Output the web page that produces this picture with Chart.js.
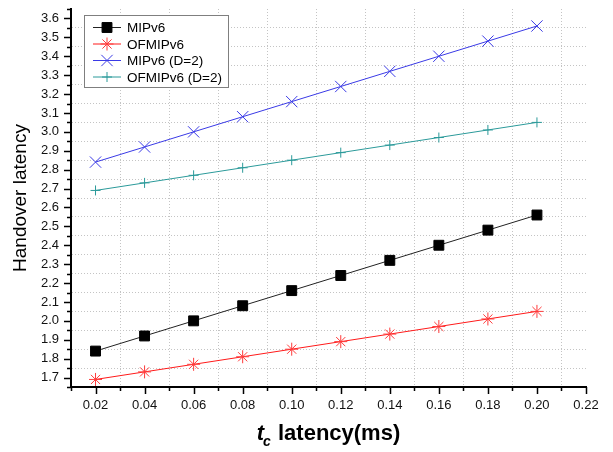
<!DOCTYPE html>
<html>
<head>
<meta charset="utf-8">
<script src="https://cdn.jsdelivr.net/npm/chart.js@4/dist/chart.umd.min.js"></script>
<style>
  html, body { margin:0; padding:0; background:#fff; }
  #c { display:block; }
</style>
</head>
<body>
<canvas id="c" width="613" height="452"></canvas>
<script>
// values
const tcValues = [0.02, 0.04, 0.06, 0.08, 0.10, 0.12, 0.14, 0.16, 0.18, 0.20];
const mipv6 = [1.84, 1.92, 2.00, 2.08, 2.16, 2.24, 2.32, 2.40, 2.48, 2.56];
const ofmipv6 = [1.69, 1.73, 1.77, 1.81, 1.85, 1.89, 1.93, 1.97, 2.01, 2.05];
const mipv6D2 = [2.84, 2.92, 3.00, 3.08, 3.16, 3.24, 3.32, 3.40, 3.48, 3.56];
const ofmipv6D2 = [2.69, 2.73, 2.77, 2.81, 2.85, 2.89, 2.93, 2.97, 3.01, 3.05];
const seriesNames = ['MIPv6', 'OFMIPv6', 'MIPv6 (D=2)', 'OFMIPv6 (D=2)'];

// tick positions: every 0.01 on x, every 0.05 on y (labels on every other)
const xTicks = Array.from({length:22}, (_, i) => (i+1)/100);   // 0.01 .. 0.22
const yTicks = Array.from({length:41}, (_, i) => (i+33)/20);   // 1.65 .. 3.65

const FONT = "'Liberation Sans', Arial, sans-serif";

function pts(ys){ return ys.map((y,i)=>({x:tcValues[i], y})); }

const isMajorX = v => Math.round(v*100) % 2 === 0;
const isMajorY = v => Math.round(v*20) % 2 === 0;

// minor/major ticks on the axes, drawn by hand so they can differ in length
const axisTicks = {
  id:'axisTicks',
  afterDraw(chart){
    const {ctx, chartArea:a, scales:{x, y}} = chart;
    ctx.save();
    ctx.strokeStyle = '#000';
    ctx.lineWidth = 1.5;
    ctx.beginPath();
    x.ticks.forEach(t=>{
      const px = Math.round(x.getPixelForValue(t.value)) + 0.5;
      const len = isMajorX(t.value) ? 7 : 4;
      ctx.moveTo(px, a.bottom); ctx.lineTo(px, a.bottom + len);
    });
    y.ticks.forEach(t=>{
      const py = Math.round(y.getPixelForValue(t.value)) + 0.5;
      const len = isMajorY(t.value) ? 7 : 4;
      ctx.moveTo(a.left, py); ctx.lineTo(a.left - len, py);
    });
    ctx.stroke();
    ctx.restore();
  }
};

// x title with italic t and subscript c
const xTitle = {
  id:'xTitle',
  afterDraw(chart){
    const {ctx, chartArea:a} = chart;
    ctx.save();
    ctx.fillStyle = '#000';
    ctx.textBaseline = 'alphabetic';
    const f1 = "italic bold 22px " + FONT, f2 = "italic bold 14px " + FONT, f3 = "bold 22px " + FONT;
    ctx.font = f1; const w1 = ctx.measureText('t').width;
    ctx.font = f2; const w2 = ctx.measureText('c').width;
    ctx.font = f3; const w3 = ctx.measureText(' latency(ms)').width;
    let x0 = (a.left + a.right)/2 - (w1 + w2 + w3)/2;
    const base = 440;
    ctx.font = f1; ctx.fillText('t', x0, base); x0 += w1;
    ctx.font = f2; ctx.fillText('c', x0 - 1, base + 6); x0 += w2;
    ctx.font = f3; ctx.fillText(' latency(ms)', x0, base);
    ctx.restore();
  }
};

// boxed legend inside the plot, top left
const boxLegend = {
  id:'boxLegend',
  afterDraw(chart){
    const {ctx} = chart;
    const bx = 84, by = 15, bw = 144, bh = 72, row = 16.5;
    ctx.save();
    ctx.fillStyle = '#fff';
    ctx.fillRect(bx, by, bw, bh);
    ctx.strokeStyle = '#7f7f7f';
    ctx.lineWidth = 1;
    ctx.strokeRect(bx + 0.5, by + 0.5, bw, bh);
    ctx.font = "13.5px " + FONT;
    ctx.textBaseline = 'middle';
    chart.data.datasets.forEach((ds, i)=>{
      const yy = by + 12.5 + i*row;
      ctx.strokeStyle = ds.borderColor;
      ctx.lineWidth = 1;
      ctx.beginPath(); ctx.moveTo(93, yy); ctx.lineTo(121, yy); ctx.stroke();
      ctx.fillStyle = ds.pointBackgroundColor;
      ctx.strokeStyle = ds.pointBorderColor;
      Chart.helpers.drawPoint(ctx, {pointStyle: ds.pointStyle, rotation:0, radius: ds.pointRadius, borderWidth: 1}, 107, yy);
      ctx.fillStyle = '#000';
      ctx.fillText(ds.label, 127, yy + 1);
    });
    ctx.restore();
  }
};

new Chart(document.getElementById('c'), {
  type:'line',
  data:{
    datasets:[
      { label:seriesNames[0], data:pts(mipv6), borderColor:'#222', borderWidth:1,
        pointStyle:'rect', pointRadius:7, pointBackgroundColor:'#000', pointBorderColor:'#000', pointBorderWidth:1 },
      { label:seriesNames[1], data:pts(ofmipv6), borderColor:'#ff1a1a', borderWidth:1,
        pointStyle:'star', pointRadius:6.5, pointBackgroundColor:'#ff3b3b', pointBorderColor:'#ff3b3b', pointBorderWidth:1 },
      { label:seriesNames[2], data:pts(mipv6D2), borderColor:'#3a3ae6', borderWidth:1,
        pointStyle:'crossRot', pointRadius:8, pointBackgroundColor:'#3a3ae6', pointBorderColor:'#3a3ae6', pointBorderWidth:1 },
      { label:seriesNames[3], data:pts(ofmipv6D2), borderColor:'#2b9a9a', borderWidth:1,
        pointStyle:'cross', pointRadius:5, pointBackgroundColor:'#2b9a9a', pointBorderColor:'#2b9a9a', pointBorderWidth:1 }
    ]
  },
  options:{
    responsive:false,
    animation:false,
    layout:{ padding:{ left:0, right:27, top:7, bottom:0 } },
    plugins:{ legend:{ display:false }, tooltip:{ enabled:false } },
    elements:{ line:{ tension:0 } },
    scales:{
      x:{
        type:'linear', min:0.01, max:0.22,
        afterBuildTicks: s => { s.ticks = xTicks.map(v=>({value:v})); },
        afterFit: s => { s.height = 65; s.paddingLeft = 0; s.paddingRight = 0; },
        ticks:{ autoSkip:false, maxRotation:0, padding:11, color:'#111',
          font:{ family:FONT, size:13 },
          callback: v => isMajorX(v) ? v.toFixed(2) : '' },
        grid:{ drawTicks:false,
          color: c => (c.tick && !isMajorX(c.tick.value) && c.index > 0) ? '#c4c4c4' : 'rgba(0,0,0,0)' },
        border:{ display:true, color:'#000', width:2, dash:[1,2] }
      },
      y:{
        type:'linear', min:1.65, max:3.65,
        afterBuildTicks: s => { s.ticks = yTicks.map(v=>({value:v})); },
        afterFit: s => { s.width = 71; s.paddingTop = 0; s.paddingBottom = 0; },
        ticks:{ autoSkip:false, padding:12, color:'#111',
          font:{ family:FONT, size:13 },
          callback: v => isMajorY(v) ? v.toFixed(1) : '' },
        grid:{ drawTicks:false,
          color: c => (c.tick && !isMajorY(c.tick.value) && c.index > 0 && c.index < yTicks.length-1) ? '#c4c4c4' : 'rgba(0,0,0,0)' },
        border:{ display:true, color:'#000', width:2, dash:[1,2] },
        title:{ display:true, text:'Handover latency', color:'#000',
          font:{ family:FONT, size:19 }, padding:{ top:9, bottom:0 } }
      }
    }
  },
  plugins:[axisTicks, xTitle, boxLegend]
});
</script>
</body>
</html>
